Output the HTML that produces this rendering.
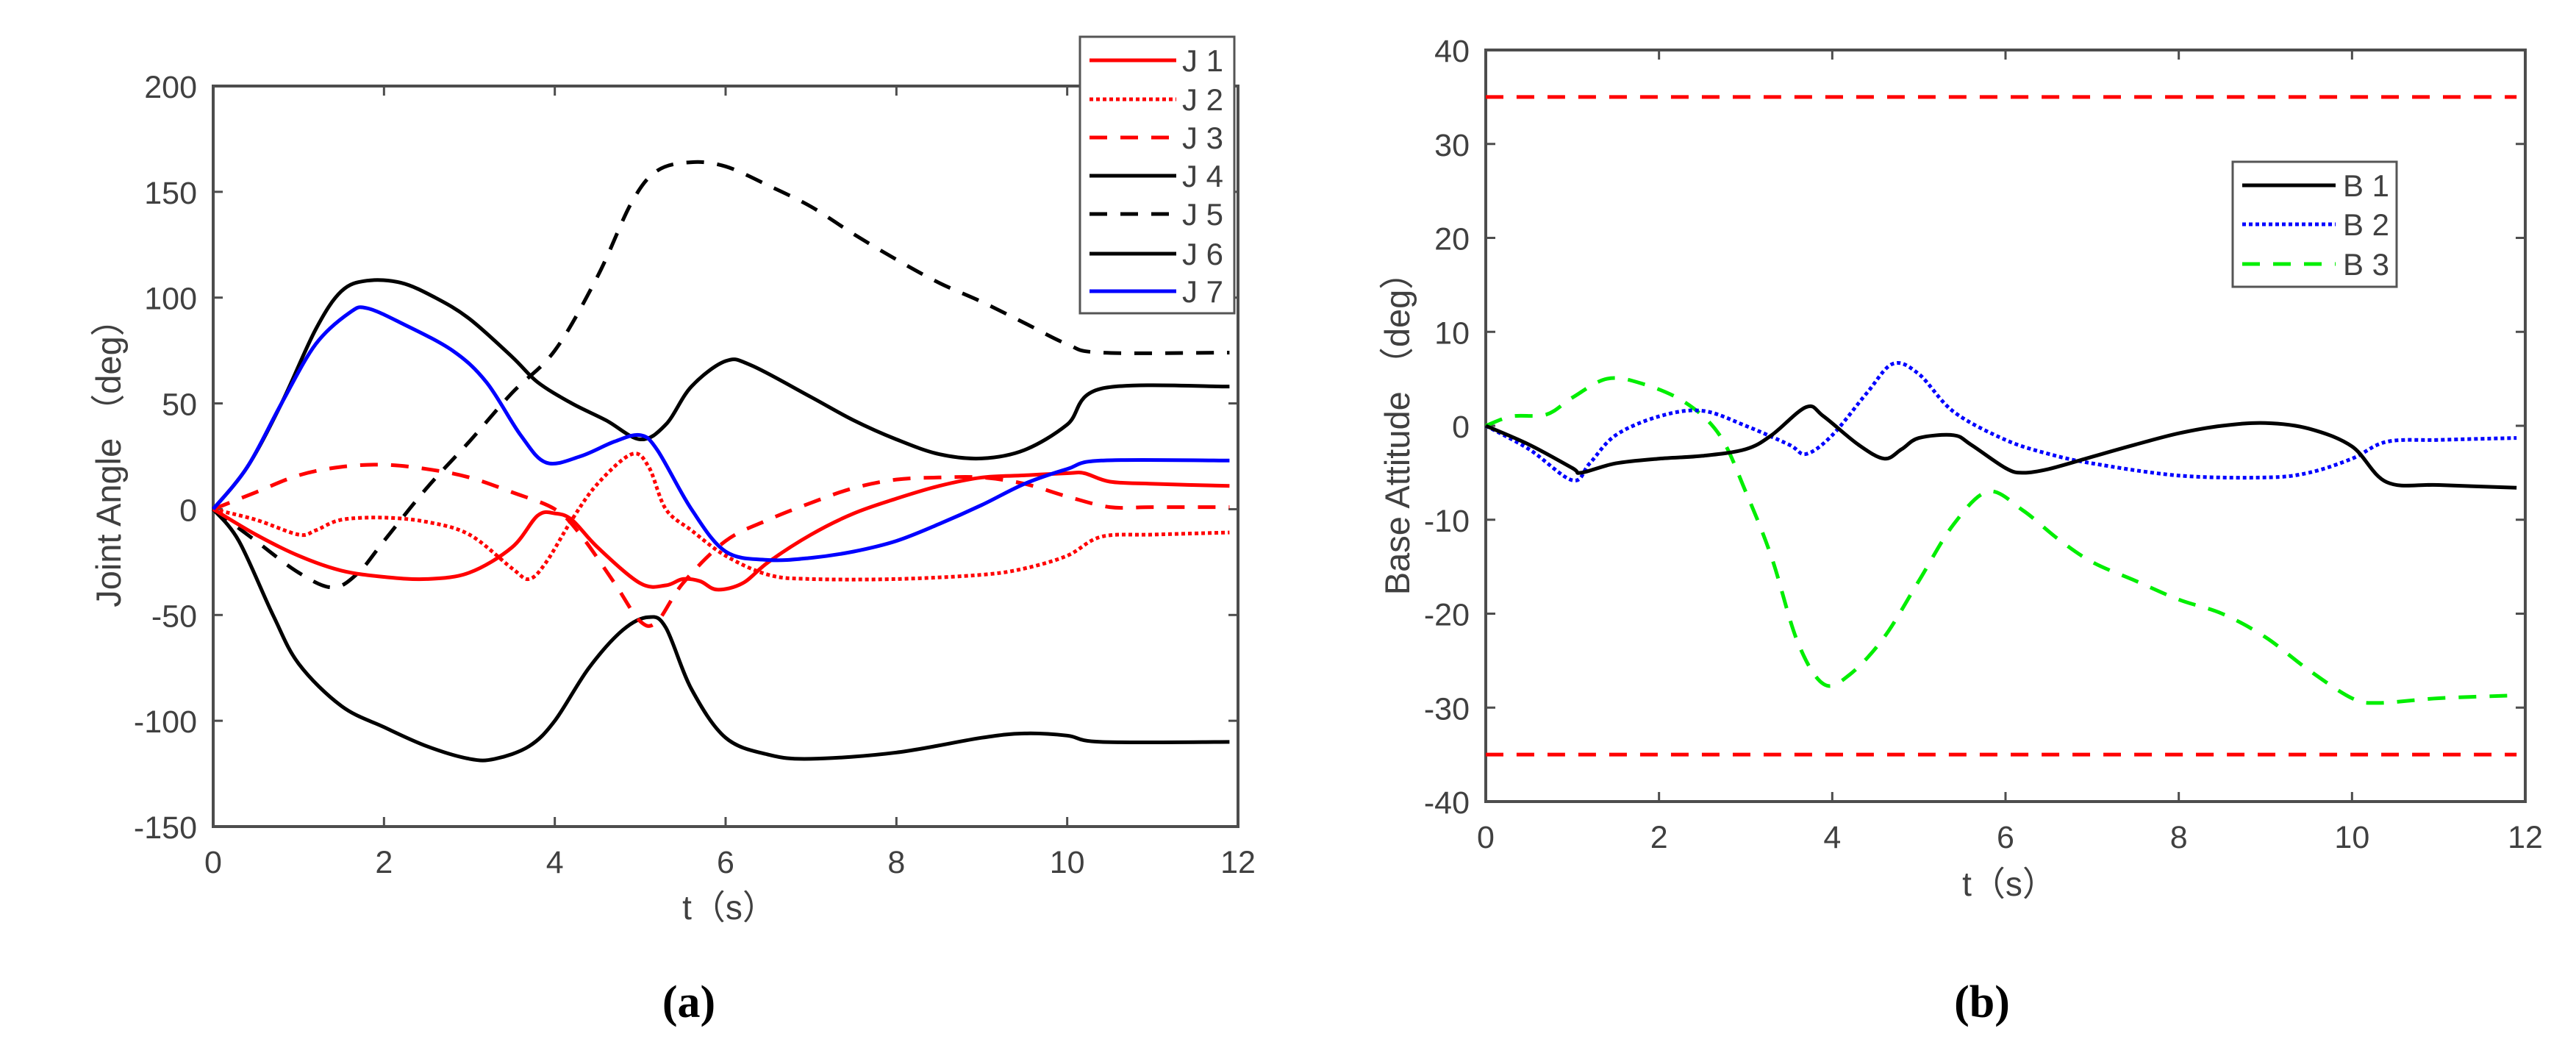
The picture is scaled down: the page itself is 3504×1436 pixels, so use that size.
<!DOCTYPE html>
<html><head><meta charset="utf-8">
<style>
html,body{margin:0;padding:0;background:#fff;}
svg{display:block;}
text{font-family:"Liberation Sans",sans-serif;fill:#404040;}
</style></head>
<body>
<svg id="fig" width="3504" height="1436" viewBox="0 0 3504 1436" xmlns="http://www.w3.org/2000/svg"></svg>
<script>
// ---- Chart (a) data ----
const aXTicks=[0,2,4,6,8,10,12];
const aYTicks=[200,150,100,50,0,-50,-100,-150];
const j1T=[0,0.5,1,1.5,2,2.5,3,3.5,3.8,4,4.2,4.5,5,5.3,5.5,5.7,5.9,6.2,6.5,7,7.5,8,8.5,9,9.5,10,10.2,10.5,11,11.9];
const j1V=[0,-12,-22,-29,-32,-33,-30,-18,-3,-2,-5,-18,-35,-36,-33,-34,-38,-35,-25,-12,-2,5,11,15,16,17,17,13,12,11];
const j2T=[0,0.5,1,1.2,1.5,2,2.5,3,3.5,3.7,3.9,4.2,4.5,4.9,5.1,5.3,5.6,6,6.5,7,8,9,9.5,10,10.4,11,11.9];
const j2V=[0,-5,-12,-10,-5,-4,-6,-12,-28,-33,-25,-5,12,26,20,0,-10,-22,-31,-33,-33,-31,-28,-22,-13,-12,-11];
const j3T=[0,0.5,1,1.5,2,2.5,3,3.5,4,4.3,4.7,5,5.2,5.5,6,6.5,7,7.5,8,8.5,9,9.5,10,10.5,11,11.9];
const j3V=[0,8,16,20,21,19,15,8,0,-12,-35,-53,-53,-35,-15,-5,3,10,14,15,15,12,6,1,1,1];
const j4T=[0,0.3,0.7,1,1.5,2,2.5,3,3.3,3.7,4,4.4,4.8,5.1,5.3,5.6,6,6.5,7,8,9,9.5,10,10.4,11.9];
const j4V=[0,-15,-50,-73,-93,-103,-112,-118,-118,-112,-100,-75,-57,-51,-56,-85,-108,-116,-118,-115,-108,-106,-107,-110,-110];
const j5T=[0,0.5,1,1.4,1.7,2,2.5,3,3.5,4,4.5,4.9,5.2,5.6,6,6.5,7,7.5,8,8.5,9,9.5,10,10.4,11.9];
const j5V=[0,-15,-30,-37,-30,-15,10,32,55,75,110,145,160,164,162,153,143,130,118,107,98,88,78,74,74];
const j6T=[0,0.4,0.8,1.2,1.5,1.8,2.2,2.6,3,3.5,3.8,4.2,4.6,5,5.3,5.6,6,6.3,7,7.5,8,8.5,9,9.5,10,10.4,11.9];
const j6V=[0,20,50,85,103,108,107,100,90,72,60,50,42,33,40,58,70,68,53,42,33,26,24,28,40,57,58];
const j7T=[0,0.4,0.8,1.2,1.6,1.8,2.2,2.8,3.2,3.6,3.9,4.3,4.7,5,5.2,5.6,6,6.5,7,7.5,8,8.5,9,9.5,10,10.4,11.9];
const j7V=[0,20,50,78,93,95,88,75,60,35,22,25,32,35,28,0,-20,-24,-23,-20,-15,-7,2,12,19,23,23];
// ---- Chart (b) data ----
const bXTicks=[0,2,4,6,8,10,12];
const bYTicks=[40,30,20,10,0,-10,-20,-30,-40];
const b1T=[0,0.5,1,1.1,1.5,2,2.5,3,3.3,3.7,3.9,4.3,4.6,4.8,5,5.4,5.6,6,6.2,6.5,7,7.5,8,8.5,9,9.5,10,10.4,11,11.9];
const b1V=[0,-2,-4.5,-5,-4,-3.5,-3.2,-2.5,-1,2,1,-2,-3.5,-2.5,-1.3,-1,-2,-4.5,-5,-4.6,-3.3,-2,-0.8,0,0.3,-0.3,-2.2,-6,-6.3,-6.6];
const b2T=[0,0.5,1,1.2,1.5,2,2.5,3,3.5,3.7,4,4.4,4.7,5,5.4,6,6.5,7,8,9,9.5,10,10.4,11,11.9];
const b2V=[0,-2.5,-5.8,-4,-1,1,1.6,0,-2,-3,-1,3.5,6.6,5.5,1.5,-1.5,-3,-4,-5.3,-5.5,-5,-3.5,-1.7,-1.5,-1.3];
const b3T=[0,0.3,0.7,1,1.4,1.8,2.3,2.7,3,3.3,3.6,3.9,4.2,4.6,5,5.4,5.8,6.2,6.6,7,7.5,8,8.5,9,9.5,10,10.3,11,11.9];
const b3V=[0,1,1.2,3,5,4.5,2.5,-1,-7,-14,-23,-27.5,-26.5,-22.5,-16.5,-10.5,-7,-9,-12,-14.5,-16.5,-18.5,-20,-22.5,-26,-29,-29.5,-29,-28.7];
const limT=[0,11.9];
const limUp=[35,35];
const limLo=[-35,-35];

const NS='http://www.w3.org/2000/svg';
const svg=document.getElementById('fig');
function mk(tag,attrs,parent){const e=document.createElementNS(NS,tag);for(const k in attrs)e.setAttribute(k,attrs[k]);(parent||svg).appendChild(e);return e;}
function txt(s,attrs,parent){const e=mk('text',attrs,parent);e.textContent=s;return e;}
function pathD(ts,vs,sx,sy){
  const p=ts.map((t,i)=>[sx(t),sy(vs[i])]);
  let d='M'+p[0][0].toFixed(1)+','+p[0][1].toFixed(1);
  for(let i=0;i<p.length-1;i++){
    const p0=p[i-1]||p[i],p1=p[i],p2=p[i+1],p3=p[i+2]||p2;
    const c1=[p1[0]+(p2[0]-p0[0])/6,p1[1]+(p2[1]-p0[1])/6];
    const c2=[p2[0]-(p3[0]-p1[0])/6,p2[1]-(p3[1]-p1[1])/6];
    d+='C'+c1[0].toFixed(1)+','+c1[1].toFixed(1)+' '+c2[0].toFixed(1)+','+c2[1].toFixed(1)+' '+p2[0].toFixed(1)+','+p2[1].toFixed(1);
  }
  return d;
}
function axes(g,L,T,R,B,sx,sy,xt,yt){
  mk('rect',{x:L,y:T,width:R-L,height:B-T,fill:'none',stroke:'#4d4d4d','stroke-width':4},g);
  xt.forEach(v=>{const x=sx(v);
    mk('line',{x1:x,y1:B,x2:x,y2:B-13,stroke:'#4d4d4d','stroke-width':3},g);
    mk('line',{x1:x,y1:T,x2:x,y2:T+13,stroke:'#4d4d4d','stroke-width':3},g);
    const t=txt(String(v),{x:x,y:B+63,'font-size':43,'text-anchor':'middle'},g);
    
    
  });
  yt.forEach(v=>{const y=sy(v);
    mk('line',{x1:L,y1:y,x2:L+13,y2:y,stroke:'#4d4d4d','stroke-width':3},g);
    mk('line',{x1:R,y1:y,x2:R-13,y2:y,stroke:'#4d4d4d','stroke-width':3},g);
    const t=txt(String(v),{x:L-22,y:y+16,'font-size':43,'text-anchor':'end'},g);
    
    
  });
}
const styles={solid:'',dotted:'5 4',dashed:'24 18'};
function series(g,ts,vs,sx,sy,color,style,name){
  const p=mk('path',{d:pathD(ts,vs,sx,sy),fill:'none',stroke:color,'stroke-width':5,'stroke-dasharray':styles[style],'stroke-linejoin':'round'},g);
  
  
}
function legend(g,x,y,w,h,items,x1,x2,tx,ys){
  mk('rect',{x:x,y:y,width:w,height:h,fill:'#fff',stroke:'#555','stroke-width':3},g);
  items.forEach((it,i)=>{
    const e=mk('g',{},g);
    
    
    mk('line',{x1:x1,y1:ys[i],x2:x2,y2:ys[i],stroke:it[1],'stroke-width':5,'stroke-dasharray':styles[it[2]]},e);
    txt(it[0],{x:tx,y:ys[i]+15,'font-size':42,fill:'#222'},e);
  });
}

// ---- Chart (a) ----
{
const g=mk('g',{});
const L=290,R=1684,T=117,B=1124;
const sx=t=>L+(t-0)/(12-0)*(R-L);
const sy=v=>T+(200-v)/(350)*(B-T);
axes(g,L,T,R,B,sx,sy,aXTicks,aYTicks);
series(g,j5T,j5V,sx,sy,'#000','dashed','series-j5');
series(g,j4T,j4V,sx,sy,'#000','solid','series-j4');
series(g,j6T,j6V,sx,sy,'#000','solid','series-j6');
series(g,j3T,j3V,sx,sy,'#ff0000','dashed','series-j3');
series(g,j2T,j2V,sx,sy,'#ff0000','dotted','series-j2');
series(g,j1T,j1V,sx,sy,'#ff0000','solid','series-j1');
series(g,j7T,j7V,sx,sy,'#0000ff','solid','series-j7');
legend(g,1469,50,210,376,[['J 1','#ff0000','solid'],['J 2','#ff0000','dotted'],['J 3','#ff0000','dashed'],['J 4','#000','solid'],['J 5','#000','dashed'],['J 6','#000','solid'],['J 7','#0000ff','solid']],1482,1600,1608,[82,135,187,239,291,345,396]);
const yt=txt('Joint Angle （deg）',{x:0,y:0,'font-size':47,'text-anchor':'middle',transform:'translate(164,618) rotate(-90)'},g);

const xt=txt('t（s）',{x:992,y:1250,'font-size':46,'text-anchor':'middle'},g);

const cap=txt('(a)',{x:937,y:1383,'font-size':62,'text-anchor':'middle',style:'font-family:"Liberation Serif",serif;font-weight:bold;fill:#000'},g);

}
// ---- Chart (b) ----
{
const g=mk('g',{});
const L=2021,R=3435,T=68,B=1090;
const sx=t=>L+t/12*(R-L);
const sy=v=>T+(40-v)/80*(B-T);
axes(g,L,T,R,B,sx,sy,bXTicks,bYTicks);
series(g,limT,limUp,sx,sy,'#ff0000','dashed','upper-limit-line');
series(g,limT,limLo,sx,sy,'#ff0000','dashed','lower-limit-line');
series(g,b3T,b3V,sx,sy,'#00ee00','dashed','series-b3');
series(g,b2T,b2V,sx,sy,'#0000ff','dotted','series-b2');
series(g,b1T,b1V,sx,sy,'#000','solid','series-b1');
legend(g,3037,220,223,170,[['B 1','#000','solid'],['B 2','#0000ff','dotted'],['B 3','#00ee00','dashed']],3050,3177,3187,[252,305,359]);
const yt=txt('Base Attitude （deg）',{x:0,y:0,'font-size':47,'text-anchor':'middle',transform:'translate(1917,578) rotate(-90)'},g);

const xt=txt('t（s）',{x:2733,y:1218,'font-size':46,'text-anchor':'middle'},g);

const cap=txt('(b)',{x:2696,y:1383,'font-size':62,'text-anchor':'middle',style:'font-family:"Liberation Serif",serif;font-weight:bold;fill:#000'},g);

}
</script>
</body></html>
